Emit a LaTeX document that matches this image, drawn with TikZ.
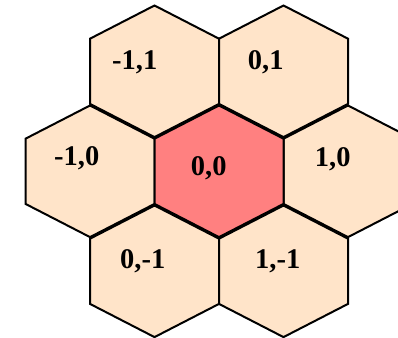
\documentclass[tikz,border=0pt]{standalone}
\usepackage{fontspec}
\setmainfont{Liberation Serif}
\definecolor{peach}{HTML}{FFE4C9}
\definecolor{centre}{HTML}{FF8080}
\newcommand{\hexcell}[3]{%
  \draw[hexline,fill=#3] (#1,#2-65.8) -- (#1+64.5,#2-32.6) -- (#1+64.5,#2+32.6)
    -- (#1,#2+65.8) -- (#1-64.5,#2+32.6) -- (#1-64.5,#2-32.6) -- cycle;}
\begin{document}
\begin{tikzpicture}[x=1pt,y=-1pt,
  hexline/.style={draw=black,line width=2pt,line join=miter},
  lbl/.style={anchor=base,inner sep=0pt,font=\fontsize{28.5}{28.5}\selectfont\bfseries}]
\useasboundingbox (0,0) rectangle (398,337);
\begin{scope}
\clip (0,0) rectangle (398,337);
\hexcell{154.5}{71.3}{peach}
\hexcell{283.5}{71.3}{peach}
\hexcell{90}{171.3}{peach}
\hexcell{348}{171.3}{peach}
\hexcell{154.5}{271.3}{peach}
\hexcell{283.5}{271.3}{peach}
\hexcell{219}{171.3}{centre}
\end{scope}
\node[lbl] (m11) at (134.7,69.3) {-1,1};
\node[lbl] (z1) at (265.8,69.3) {0,1};
\node[lbl] (m10) at (76.8,165) {-1,0};
\node[lbl] (zz) at (208.7,175) {0,0};
\node[lbl] (o0) at (332.8,166.7) {1,0};
\node[lbl] (zm1) at (142.8,268.3) {0,-1};
\node[lbl] (om1) at (277.7,268.3) {1,-1};
\end{tikzpicture}
\end{document}
